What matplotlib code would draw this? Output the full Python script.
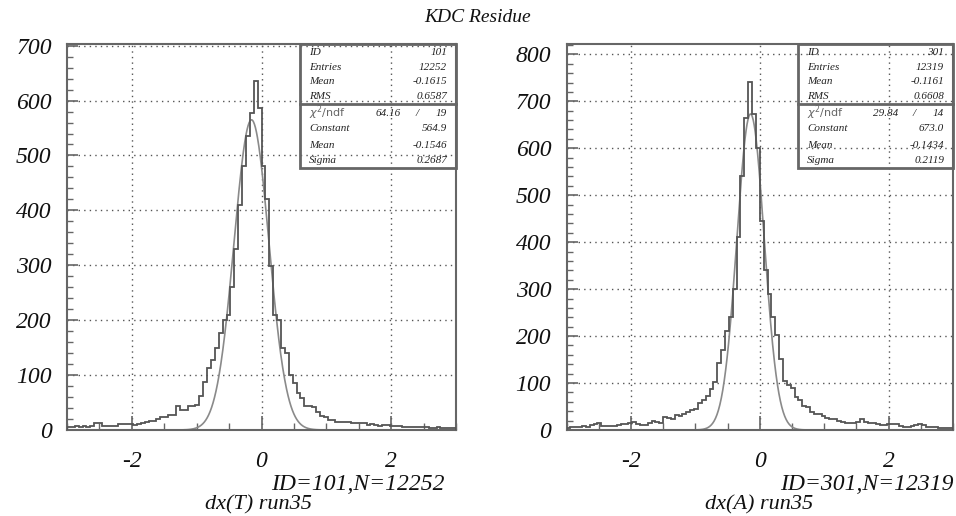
import numpy as np
import matplotlib
matplotlib.use('Agg')
import matplotlib.pyplot as plt
from matplotlib.ticker import MultipleLocator
from matplotlib.patches import Rectangle

plt.rcParams['axes.unicode_minus'] = False

# 100 bins on [-3, 3]
x_low, x_high, n_bins = -3.0, 3.0, 100

counts_T = [6, 5, 7, 6, 7, 6, 7, 12, 12, 8,
            7, 7, 8, 10, 11, 11, 11, 9, 10, 12,
            15, 17, 17, 20, 23, 23, 27, 27, 44, 36,
            36, 43, 43, 45, 61, 88, 113, 128, 150, 176,
            200, 210, 260, 330, 410, 480, 535, 578, 636, 587,
            480, 420, 298, 210, 200, 150, 140, 100, 85, 67,
            58, 43, 44, 42, 33, 25, 23, 19, 19, 15,
            15, 15, 14, 12, 12, 13, 13, 9, 10, 9,
            8, 9, 9, 7, 8, 7, 6, 6, 6, 5,
            6, 6, 5, 4, 4, 5, 4, 3, 4, 3]

counts_A = [5, 7, 6, 7, 8, 6, 10, 12, 14, 9,
            8, 9, 8, 10, 13, 12, 14, 18, 12, 11,
            10, 14, 20, 16, 14, 28, 26, 23, 32, 30,
            35, 38, 43, 45, 57, 64, 72, 88, 103, 142,
            170, 210, 240, 300, 410, 540, 665, 741, 672, 600,
            445, 340, 290, 240, 202, 152, 105, 96, 89, 71,
            64, 51, 50, 39, 35, 35, 30, 25, 23, 23,
            20, 16, 14, 14, 14, 18, 23, 16, 14, 14,
            12, 11, 11, 13, 13, 12, 8, 7, 7, 8,
            11, 12, 10, 7, 7, 6, 5, 5, 5, 4]

# stat box contents
ids = [101, 301]
entries = [12252, 12319]
means = ['-0.1615', '-0.1161']
rms = ['0.6587', '0.6608']
chi2 = ['64.16', '29.84']
ndf = ['19', '14']
fit_const = [564.9, 673.0]
fit_mean = [-0.1546, -0.1434]
fit_sigma = [0.2687, 0.2119]
ymax = [703, 822]
names = ['dx(T) run35', 'dx(A) run35']

serif = 'Liberation Serif'
hist_col = '#555555'
fit_col = '#8a8a8a'
frame_col = '#666666'

fig = plt.figure(figsize=(9.56, 5.16), dpi=100)
axes = [fig.add_axes([0.0701, 0.1667, 0.4069, 0.748]),
        fig.add_axes([0.5926, 0.1667, 0.4043, 0.748])]

edges = np.linspace(x_low, x_high, n_bins + 1)
xs = np.linspace(x_low, x_high, 800)

for i, ax in enumerate(axes):
    counts = [counts_T, counts_A][i]
    ax.stairs(counts, edges, color=hist_col, lw=1.3, zorder=3)
    gaus = fit_const[i] * np.exp(-0.5 * ((xs - fit_mean[i]) / fit_sigma[i]) ** 2)
    ax.plot(xs, gaus, color=fit_col, lw=1.2, zorder=2)

    ax.set_xlim(x_low, x_high)
    ax.set_ylim(0, ymax[i])
    ax.xaxis.set_major_locator(MultipleLocator(2))
    ax.xaxis.set_minor_locator(MultipleLocator(0.5))
    ax.yaxis.set_major_locator(MultipleLocator(100))
    ax.yaxis.set_minor_locator(MultipleLocator(20))
    ax.grid(True, which='major', color='#555555', lw=1.0, linestyle=(0, (1, 3)))
    ax.tick_params(which='both', direction='in', top=False, right=False,
                   colors=frame_col, labelcolor='#111111')
    ax.tick_params(axis='y', which='major', length=8, width=1.2, pad=11)
    ax.tick_params(axis='y', which='minor', length=4, width=1.0)
    ax.tick_params(axis='x', which='major', length=10, width=1.2, pad=15)
    ax.tick_params(axis='x', which='minor', length=5, width=1.0)
    for lab in ax.get_xticklabels() + ax.get_yticklabels():
        lab.set_fontfamily(serif)
        lab.set_fontstyle('italic')
        lab.set_fontsize(17)
    for sp in ax.spines.values():
        sp.set_color(frame_col)
        sp.set_linewidth(1.5)

    # stat box
    bx = 0.60
    ax.add_patch(Rectangle((bx, 0.679), 1 - bx, 0.321, transform=ax.transAxes,
                           fill=False, ec=frame_col, lw=2.0, zorder=5, clip_on=False))
    ax.plot([bx, 1], [0.845, 0.845], transform=ax.transAxes, color=frame_col,
            lw=2.0, zorder=5, clip_on=False)
    rows_y = [0.979, 0.940, 0.902, 0.863, 0.821, 0.780, 0.738, 0.699]
    labels = ['ID', 'Entries', 'Mean', 'RMS', None, 'Constant', 'Mean', 'Sigma']
    values = [str(ids[i]), str(entries[i]), means[i], rms[i], None,
              '%.1f' % fit_const[i], '%.4f' % fit_mean[i], '%.4f' % fit_sigma[i]]
    tx = bx + 0.022
    vx = 0.977
    for y, lab, val in zip(rows_y, labels, values):
        if lab is None:
            continue
        ax.text(tx, y, lab, transform=ax.transAxes, fontsize=8, fontfamily=serif,
                style='italic', va='center', ha='left', color='#222222', zorder=6)
        ax.text(vx, y, val, transform=ax.transAxes, fontsize=8, fontfamily=serif,
                style='italic', va='center', ha='right', color='#222222', zorder=6)
    ax.text(tx, rows_y[4], r'$\chi^2$/ndf', transform=ax.transAxes, fontsize=8,
            color='#666666', va='center', ha='left', zorder=6)
    ax.text(0.858, rows_y[4], chi2[i], transform=ax.transAxes, fontsize=8,
            fontfamily=serif, style='italic', va='center', ha='right', color='#222222')
    ax.text(0.90, rows_y[4], '/', transform=ax.transAxes, fontsize=8,
            fontfamily=serif, style='italic', va='center', ha='center', color='#222222')
    ax.text(vx, rows_y[4], ndf[i], transform=ax.transAxes, fontsize=8,
            fontfamily=serif, style='italic', va='center', ha='right', color='#222222')

# captions under each panel
fig.text(0.465, 0.062, 'ID=101,N=12252', fontfamily=serif, style='italic',
         fontsize=17, ha='right', va='center', color='#111111')
fig.text(0.214, 0.021, names[0], fontfamily=serif, style='italic',
         fontsize=16, ha='left', va='center', color='#111111')
fig.text(0.998, 0.062, 'ID=301,N=12319', fontfamily=serif, style='italic',
         fontsize=17, ha='right', va='center', color='#111111')
fig.text(0.737, 0.021, names[1], fontfamily=serif, style='italic',
         fontsize=16, ha='left', va='center', color='#111111')

fig.text(0.5, 0.967, 'KDC Residue', fontfamily=serif, style='italic',
         fontsize=14, ha='center', va='center', color='#111111')

fig.savefig('out.png', dpi=100, facecolor='white')
